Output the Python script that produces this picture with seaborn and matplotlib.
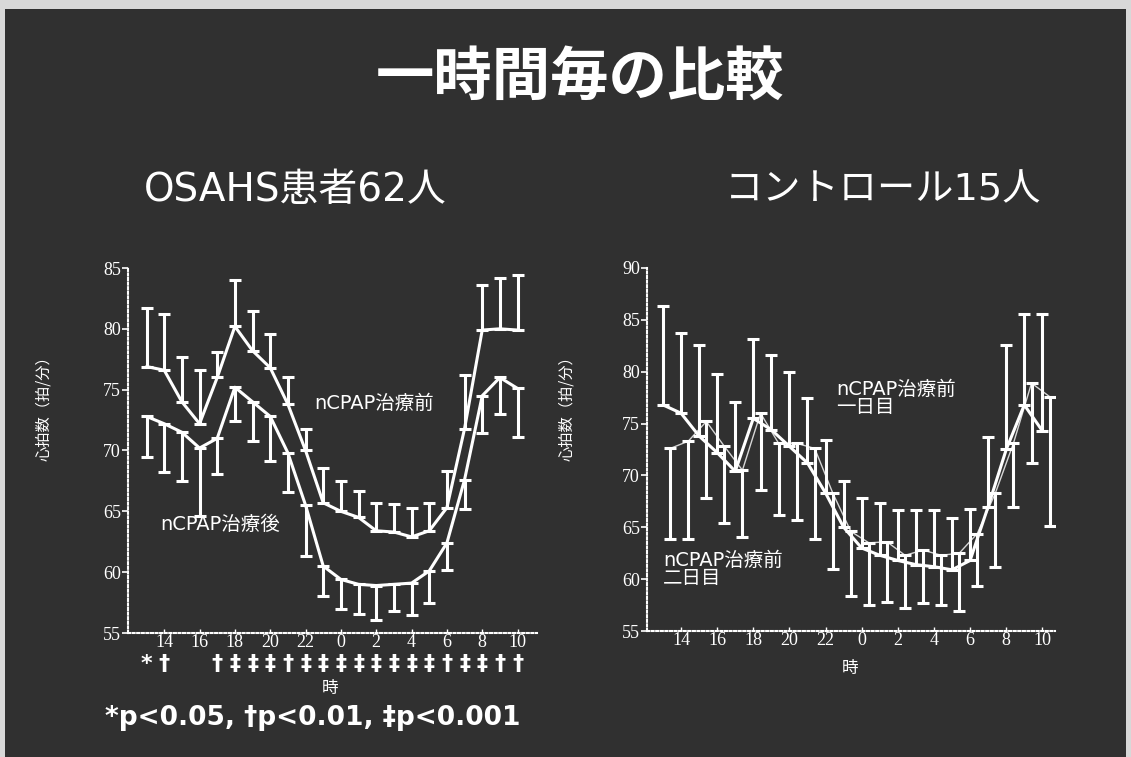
import numpy as np
import pandas as pd
import matplotlib
matplotlib.use("Agg")
import matplotlib.pyplot as plt
import seaborn as sns
from matplotlib.patches import Rectangle
from matplotlib.transforms import blended_transform_factory

# ---- data -------------------------------------------------------------
hours = [13, 14, 15, 16, 17, 18, 19, 20, 21, 22, 23, 0, 1, 2, 3, 4, 5, 6, 7, 8, 9, 10]

# OSAHS patients (n=62): before / after nCPAP
pre_mean = [76.9, 76.6, 74.0, 72.2, 76.0, 80.2, 78.2, 76.8, 73.8, 70.0, 65.7,
            65.0, 64.5, 63.4, 63.3, 62.9, 63.4, 65.3, 71.8, 79.9, 80.0, 79.9]
pre_upper = [81.7, 81.2, 77.7, 76.6, 78.1, 84.0, 81.5, 79.6, 76.0, 71.8, 68.6,
             67.5, 66.7, 65.7, 65.6, 65.3, 65.7, 68.3, 76.2, 83.6, 84.2, 84.4]
post_mean = [72.8, 72.2, 71.5, 70.2, 71.0, 75.2, 74.0, 72.8, 69.8, 65.5, 60.5,
             59.4, 59.0, 58.9, 59.0, 59.1, 60.1, 62.4, 67.6, 74.5, 76.0, 75.1]
post_lower = [69.5, 68.2, 67.5, 64.6, 68.1, 72.4, 70.8, 69.1, 66.6, 61.3, 58.0,
              57.0, 56.6, 56.1, 56.8, 56.5, 57.5, 60.2, 65.2, 71.4, 73.0, 71.1]
sig_marks = ["*", "†", "", "", "†", "‡", "‡", "‡", "†", "‡", "‡",
             "‡", "‡", "‡", "‡", "‡", "‡", "†", "‡", "‡", "†", "†"]

# Controls (n=15): day 1 / day 2 before nCPAP
day1_mean = [76.8, 76.0, 73.8, 72.2, 70.4, 75.5, 74.4, 72.8, 71.2, 68.3, 65.0,
             63.0, 62.3, 61.8, 61.4, 61.2, 60.9, 61.8, 67.0, 72.5, 76.8, 74.3]
day1_upper = [86.3, 83.7, 82.6, 79.8, 77.1, 83.2, 81.6, 80.0, 77.5, 73.4, 69.5,
              67.8, 67.3, 66.7, 66.7, 66.7, 65.9, 66.8, 73.7, 82.6, 85.6, 85.6]
day2_mean = [72.6, 73.3, 75.2, 72.8, 70.5, 76.0, 73.1, 73.1, 72.6, 68.3, 64.6,
             63.5, 63.6, 62.3, 62.8, 62.3, 62.5, 64.4, 68.3, 73.1, 78.9, 77.6]
day2_lower = [63.9, 63.9, 67.8, 65.4, 64.1, 68.6, 66.2, 65.7, 63.9, 61.0, 58.4,
              57.5, 57.8, 57.2, 57.7, 57.5, 56.9, 59.3, 61.2, 67.0, 71.2, 65.1]

title = "一時間毎の比較"
left_title = "OSAHS患者62人"
right_title = "コントロール15人"
ylabel = "心拍数（拍/分）"
xlabel = "時"
footnote = "*p<0.05, †p<0.01, ‡p<0.001"

# ---- style ------------------------------------------------------------
sns.set_style("dark")
plt.rcParams["font.family"] = ["Noto Sans CJK JP", "DejaVu Sans"]
plt.rcParams["axes.unicode_minus"] = False

W, H = 1131, 757
BG = "#303030"
FG = "white"
WIDE = ["DejaVu Sans", "Noto Sans CJK JP"]
fig = plt.figure(figsize=(W / 100, H / 100), dpi=100, facecolor="#d8d8d8")
fig.patches.append(Rectangle((5 / W, 0), 1 - 10 / W, 1 - 9 / H,
                             transform=fig.transFigure, facecolor=BG,
                             edgecolor="none", zorder=-10))


def px(x, y):
    return x / W, 1 - y / H


positions = list(range(len(hours)))
tick_pos = [p for p, h in zip(positions, hours) if h % 2 == 0]
tick_lab = [str(h) for h in hours if h % 2 == 0]
serif = "Liberation Serif"


def style_axes(ax, ylim, yticks, xlim):
    ax.set_facecolor("none")
    ax.set_xlim(*xlim)
    ax.set_ylim(*ylim)
    ax.grid(False)
    for s in ("top", "right"):
        ax.spines[s].set_visible(False)
    for s in ("left", "bottom"):
        ax.spines[s].set_visible(True)
        ax.spines[s].set_color(FG)
        ax.spines[s].set_linestyle((0, (1, 1.2)))
        ax.spines[s].set_linewidth(1.5)
    ax.set_yticks(yticks)
    ax.set_yticklabels([str(t) for t in yticks], fontfamily=serif, fontsize=13, color=FG)
    ax.set_xticks(tick_pos)
    ax.set_xticklabels(tick_lab, fontfamily=serif, fontsize=13, color=FG)
    ax.tick_params(axis="y", colors=FG, direction="out", length=4, width=1.2, pad=1, left=True)
    ax.tick_params(axis="x", colors=FG, direction="in", length=3, width=1, pad=1, bottom=True)
    ax.set_xlabel("")
    ax.set_ylabel("")


def draw_series(ax, x, mean, lo, hi, lw=2.2, alpha=1.0):
    m = np.asarray(mean)
    df = pd.DataFrame({"x": x, "y": m})
    sns.lineplot(data=df, x="x", y="y", ax=ax, color=FG, linewidth=lw,
                 alpha=alpha, legend=False, zorder=3)
    ax.errorbar(x, m, yerr=[m - np.asarray(lo), np.asarray(hi) - m], fmt="none",
                ecolor=FG, elinewidth=2.2, capsize=4, capthick=2.2, zorder=3)


# ---- left panel: OSAHS ------------------------------------------------
axL = fig.add_axes([128 / W, 1 - 633 / H, (537 - 128) / W, (633 - 268) / H])
draw_series(axL, positions, pre_mean, pre_mean, pre_upper)
draw_series(axL, positions, post_mean, post_lower, post_mean)
style_axes(axL, (55, 85), [55, 60, 65, 70, 75, 80, 85], (-1.05, 22.1))
axL.text(9.5, 73.9, "nCPAP治療前", color=FG, fontsize=14, ha="left", va="center",
         family=WIDE)
axL.text(0.8, 63.9, "nCPAP治療後", color=FG, fontsize=14, ha="left", va="center",
         family=WIDE)
trL = blended_transform_factory(axL.transData, axL.transAxes)
for p, mk in zip(positions, sig_marks):
    if mk:
        axL.text(p, -0.085, mk, transform=trL, color=FG, fontsize=16,
                 ha="center", va="center", family=["DejaVu Sans"], fontweight="bold")

# ---- right panel: controls --------------------------------------------
axR = fig.add_axes([646.7 / W, 1 - 631 / H, (1055 - 646.7) / W, (631 - 268) / H])
day2_x = [p + 0.4 for p in positions]
draw_series(axR, positions, day1_mean, day1_mean, day1_upper)
draw_series(axR, day2_x, day2_mean, day2_lower, day2_mean, lw=1.0, alpha=0.8)
style_axes(axR, (55, 90), [55, 60, 65, 70, 75, 80, 85, 90], (-0.9, 21.7))
axR.text(9.6, 77.4, "nCPAP治療前\n一日目", color=FG, fontsize=14, ha="left",
         va="center", linespacing=0.95, family=WIDE)
axR.text(0.0, 60.9, "nCPAP治療前\n二日目", color=FG, fontsize=14, ha="left",
         va="center", linespacing=0.95, family=WIDE)

# ---- slide texts ------------------------------------------------------
fig.text(*px(580, 78), title, color=FG, fontsize=42, ha="center", va="center",
         fontweight="bold")
fig.text(*px(295, 190), left_title, color=FG, fontsize=28, ha="center", va="center",
         family=WIDE)
fig.text(*px(883, 190), right_title, color=FG, fontsize=27.5, ha="center", va="center",
         family=WIDE)
fig.text(*px(44, 405), ylabel, color=FG, fontsize=11, rotation=90, ha="center", va="center")
fig.text(*px(567, 405), ylabel, color=FG, fontsize=11, rotation=90, ha="center", va="center")
fig.text(*px(330, 688), xlabel, color=FG, fontsize=12, ha="center", va="center")
fig.text(*px(850, 668), xlabel, color=FG, fontsize=12, ha="center", va="center")
fig.text(*px(105, 718), footnote, color=FG, fontsize=19, ha="left", va="center",
         family=["DejaVu Sans"], fontweight="bold")

fig.savefig("out.png", dpi=100, facecolor=fig.get_facecolor())
